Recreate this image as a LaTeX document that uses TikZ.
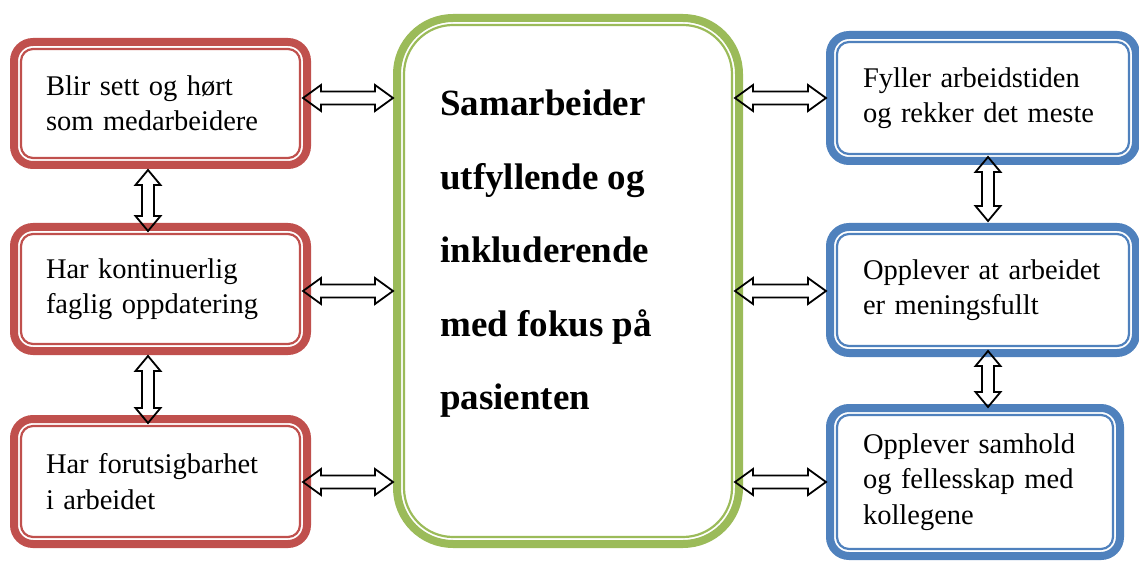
\documentclass[tikz,border=0pt]{standalone}
\usepackage{fontspec}
\setmainfont{Liberation Serif}
\usetikzlibrary{calc}
\definecolor{wred}{HTML}{C0504D}
\definecolor{wgreen}{HTML}{9BBB59}
\definecolor{wblue}{HTML}{4F81BD}
\tikzset{
  frame/.style n args={3}{draw=#1, line width=8pt, rounded corners=#2, fill=white,
    path picture={\draw[#1, line width=2.2pt, rounded corners=#3]
      ([shift={(7pt,7pt)}]path picture bounding box.south west) rectangle
      ([shift={(-7pt,-7pt)}]path picture bounding box.north east);}},
  smalltext/.style={font=\fontsize{28.5}{35.5}\selectfont, align=left, inner ysep=0pt},
  lbox/.style={frame={wred}{19pt}{12pt}, smalltext, inner xsep=32pt, text width=229pt},
  rbox/.style={frame={wblue}{19pt}{12pt}, smalltext, inner xsep=33pt},
  gbox/.style={frame={wgreen}{56pt}{49pt}},
  bigtext/.style={font=\fontsize{37}{73.5}\selectfont\bfseries, align=left, inner sep=0pt},
  arr/.style={draw=black, line width=1.8pt, line join=miter, fill=none},
}
% horizontal double arrow between tips #1 (left) and #2 (right)
\newcommand\harr[2]{\draw[arr] (#1) -- ++(18,-13) -- ++(0,6.5) -- ($(#2)+(-18,-6.5)$) -- ++(0,-6.5) -- (#2)
  -- ++(-18,13) -- ++(0,-6.5) -- ($(#1)+(18,6.5)$) -- ++(0,6.5) -- cycle;}
% vertical double arrow between tips #1 (top) and #2 (bottom)
\newcommand\varr[2]{\draw[arr] (#1) -- ++(12.5,15) -- ++(-6.5,0) -- ($(#2)+(6,-15)$) -- ++(6.5,0) -- (#2)
  -- ++(-12.5,-15) -- ++(6.5,0) -- ($(#1)+(-6,15)$) -- ++(-6.5,0) -- cycle;}
\begin{document}
\begin{tikzpicture}[x=1pt, y=-1pt]
\useasboundingbox (0,0) rectangle (1139,561);

% left (red) boxes
\node[lbox, minimum height=123pt] (L1) at (160.5,103.5) {Blir sett og hørt\\som medarbeidere};
\node[lbox, minimum height=124pt] (L2) at (160.5,289) {Har kontinuerlig\\faglig oppdatering};
\node[lbox, minimum height=125pt] (L3) at (160.5,481.5) {Har forutsigbarhet\\i arbeidet};

% centre (green) box
\node[gbox, minimum width=342pt, minimum height=526pt] (G) at (568,281) {};
\node[bigtext, anchor=north west] (GT) at ($(G.north west)+(47,76)$)
  {Samarbeider\\utfyllende og\\inkluderende\\med fokus på\\pasienten};

% right (blue) boxes
\node[rbox, text width=240pt, minimum height=126pt] (R1) at (983,98) {\mbox{Fyller arbeidstiden}\\\mbox{og rekker det meste}};
\node[rbox, text width=240pt, minimum height=126pt] (R2) at (983,290) {\mbox{Opplever at arbeidet}\\er meningsfullt};
\node[rbox, text width=224pt, minimum height=148pt] (R3) at (975,482) {Opplever samhold\\\mbox{og fellesskap med}\\kollegene};

% horizontal connectors, left side
\coordinate (a1) at ($(L1.east)+(-8,-5.5)$);
\coordinate (b1) at (G.west |- a1);
\coordinate (a2) at ($(L2.east)+(-8,2)$);
\coordinate (b2) at (G.west |- a2);
\coordinate (a3) at ($(L3.east)+(-8,0.5)$);
\coordinate (b3) at (G.west |- a3);
\harr{a1}{b1}
\harr{a2}{b2}
\harr{a3}{b3}

% horizontal connectors, right side
\coordinate (c1) at ($(R1.west)$);
\coordinate (d1) at ($(G.east |- c1)+(-8,0)$);
\coordinate (c2) at ($(R2.west)+(0,1)$);
\coordinate (d2) at ($(G.east |- c2)+(-8,0)$);
\coordinate (c3) at ($(R3.west)$);
\coordinate (d3) at ($(G.east |- c3)+(-8,0)$);
\harr{d1}{c1}
\harr{d2}{c2}
\harr{d3}{c3}

% vertical connectors, left side
\coordinate (e1) at ($(L1.south)+(-12.5,1)$);
\coordinate (f1) at ($(L2.north)+(-12.5,8)$);
\coordinate (e2) at ($(L2.south)+(-12.5,1)$);
\coordinate (f2) at ($(L3.north)+(-12.5,8)$);
\varr{e1}{f1}
\varr{e2}{f2}

% vertical connectors, right side
\coordinate (g1) at ($(R1.south)+(5,-8)$);
\coordinate (h1) at ($(R2.north)+(5,-2)$);
\coordinate (g2) at ($(R2.south)+(5,-6)$);
\coordinate (h2) at ($(g2 |- R3.north)+(0,3)$);
\varr{g1}{h1}
\varr{g2}{h2}
\end{tikzpicture}
\end{document}
